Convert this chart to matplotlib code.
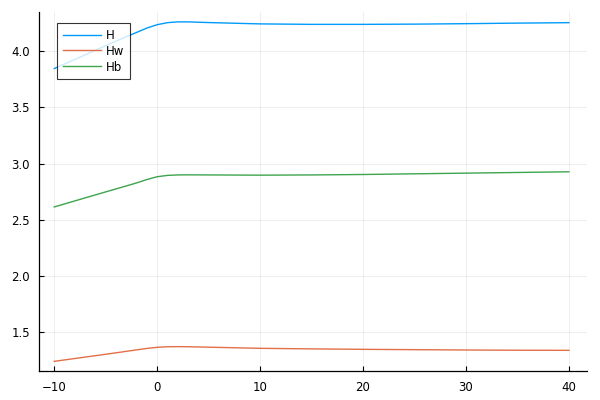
import numpy as np
import matplotlib
matplotlib.use("Agg")
import matplotlib.pyplot as plt

# values
x = [-10, -5, -3, -2, -1, 0, 1, 2, 3, 5, 10, 15, 20, 25, 30, 35, 40]
H = [3.846, 4.05, 4.13, 4.168, 4.207, 4.237, 4.255, 4.262, 4.262, 4.256, 4.244,
     4.240, 4.240, 4.242, 4.246, 4.251, 4.255]
Hw = [1.239, 1.302, 1.328, 1.341, 1.354, 1.364, 1.369, 1.370, 1.369, 1.365, 1.355,
      1.350, 1.346, 1.343, 1.340, 1.338, 1.337]
Hb = [2.614, 2.748, 2.801, 2.828, 2.858, 2.883, 2.895, 2.899, 2.900, 2.899, 2.897,
      2.899, 2.903, 2.909, 2.915, 2.921, 2.927]

labels = ["H", "Hw", "Hb"]
colors = ["#009AFA", "#E36F47", "#3EA44E"]
xticks = [-10, 0, 10, 20, 30, 40]
yticks = [1.5, 2.0, 2.5, 3.0, 3.5, 4.0]

fig = plt.figure(figsize=(6, 4), dpi=100)
ax = fig.add_axes([0.065, 0.0725, 0.913, 0.8975])

for ys, lab, c in zip([H, Hw, Hb], labels, colors):
    ax.plot(x, ys, color=c, lw=1.0, label=lab)

ax.set_xlim(-11.48, 41.74)
ax.set_ylim(1.153, 4.35)
ax.set_xticks(xticks)
ax.set_yticks(yticks)
ax.set_xticklabels([str(t).replace("-", "\u2212") for t in xticks])
ax.set_yticklabels(["%.1f" % t for t in yticks])

ax.grid(True, color="black", alpha=0.08, lw=0.6)
for s in ["top", "right"]:
    ax.spines[s].set_visible(False)
for s in ["left", "bottom"]:
    ax.spines[s].set_linewidth(0.9)
ax.tick_params(direction="in", length=3.5, width=0.8, labelsize=8.5)
ax.tick_params(axis="y", pad=6.5)
ax.tick_params(axis="x", pad=7)

leg = ax.legend(loc="upper left", bbox_to_anchor=(0.033, 0.97), fontsize=8.5,
                frameon=True, fancybox=False, handlelength=3.2,
                borderpad=0.5, labelspacing=0.25, handletextpad=0.45,
                borderaxespad=0)
leg.get_frame().set_edgecolor("black")
leg.get_frame().set_linewidth(0.8)

plt.savefig("out.png", dpi=100)
